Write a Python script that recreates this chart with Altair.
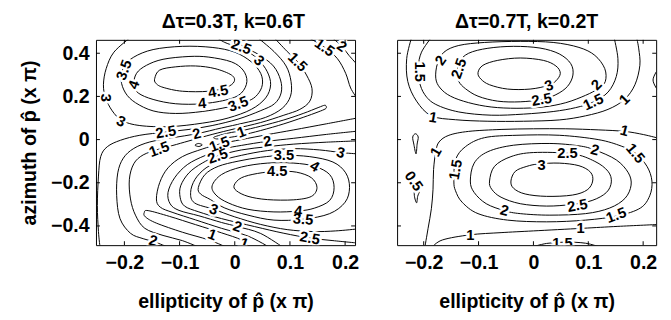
import altair as alt
import pandas as pd

FONT = "Liberation Sans"
W, H = 265, 210

x_ticks = [-0.2, -0.1, 0, 0.1, 0.2]
y_ticks = [-0.4, -0.2, 0, 0.2, 0.4]
left_x_domain = [-0.2515, 0.218]
right_x_domain = [-0.2485, 0.2237]
y_domain = [-0.489, 0.462]

left_title = "\u0394\u03c4=0.3T, k=0.6T"
right_title = "\u0394\u03c4=0.7T, k=0.2T"
x_title = "ellipticity of p\u0302 (x \u03c0)"
y_title = "azimuth of p\u0302 (x \u03c0)"

# ---------------- left panel contour lines (x, y) ----------------
left_u45 = [(-0.145,0.284),(-0.136,0.322),(-0.107,0.337),(-0.071,0.341),(-0.036,0.329),(-0.006,0.299),(-0.001,0.269),(-0.015,0.242),(-0.047,0.224),(-0.095,0.224),(-0.130,0.242),(-0.143,0.261)]
left_u4 = [(-0.183,0.254),(-0.178,0.307),(-0.160,0.344),(-0.130,0.372),(-0.083,0.385),(-0.047,0.382),(-0.006,0.360),(0.015,0.322),(0.022,0.269),(0.012,0.216),(-0.012,0.186),(-0.059,0.166),(-0.107,0.166),(-0.148,0.186),(-0.175,0.216)]
left_u35 = [(-0.206,0.276),(-0.201,0.337),(-0.183,0.382),(-0.148,0.417),(-0.095,0.432),(-0.041,0.427),(0.000,0.405),(0.030,0.360),(0.047,0.307),(0.050,0.254),(0.041,0.208),(0.024,0.178),(-0.012,0.151),(-0.059,0.130),(-0.107,0.121),(-0.148,0.133),(-0.180,0.171),(-0.198,0.216)]
left_o3 = [(-0.189,0.473),(-0.219,0.405),(-0.233,0.329),(-0.238,0.254),(-0.234,0.193),(-0.222,0.133),(-0.204,0.088),(-0.172,0.065),(-0.118,0.060),(-0.059,0.076),(-0.012,0.100),(0.030,0.140),(0.056,0.193),(0.065,0.254),(0.059,0.314),(0.044,0.367),(0.027,0.402),(0.006,0.427),(-0.018,0.450),(-0.033,0.473)]
left_o25 = [(-0.001,0.473),(0.015,0.432),(0.044,0.393),(0.070,0.341),(0.083,0.276),(0.084,0.216),(0.072,0.166),(0.046,0.133),(0.006,0.095),(-0.041,0.065),(-0.083,0.047),(-0.125,0.035),(-0.172,0.020),(-0.207,-0.003),(-0.231,-0.033),(-0.243,-0.079),(-0.247,-0.169),(-0.249,-0.305),(-0.247,-0.426),(-0.244,-0.502)]
left_o2 = [(0.041,0.473),(0.071,0.408),(0.093,0.341),(0.102,0.269),(0.101,0.201),(0.086,0.145),(0.056,0.103),(0.015,0.076),(-0.024,0.054),(-0.069,0.027),(-0.112,0.009),(-0.154,-0.011),(-0.183,-0.041),(-0.202,-0.086),(-0.212,-0.154),(-0.214,-0.260),(-0.208,-0.366),(-0.189,-0.434),(-0.166,-0.459),(-0.142,-0.477),(-0.118,-0.502)]
left_o15 = [(0.071,0.473),(0.095,0.408),(0.114,0.360),(0.130,0.299),(0.140,0.236),(0.136,0.178),(0.118,0.140),(0.089,0.113),(0.047,0.079),(0.000,0.050),(-0.041,0.024),(-0.083,-0.006),(-0.112,-0.027),(-0.137,-0.044),(-0.166,-0.071),(-0.183,-0.112),(-0.191,-0.184),(-0.189,-0.275),(-0.180,-0.350),(-0.163,-0.411),(-0.130,-0.444),(-0.095,-0.468),(-0.062,-0.502)]
left_v1 = [(-0.037,0.012),(-0.012,0.030),(0.012,0.041),(0.047,0.062),(0.089,0.091),(0.124,0.121),(0.151,0.148),(0.163,0.159),(0.166,0.151),(0.164,0.142),(0.151,0.128),(0.124,0.103),(0.089,0.073),(0.047,0.042),(0.012,0.020),(-0.012,0.009),(-0.033,0.003)]
left_dot = [(-0.072,-0.026),(-0.066,-0.018),(-0.059,-0.024),(-0.065,-0.032)]
left_i15 = [(0.222,0.100),(0.166,0.073),(0.107,0.045),(0.059,0.023),(0.012,0.000),(-0.028,-0.021),(-0.059,-0.044),(-0.095,-0.079),(-0.121,-0.131),(-0.136,-0.199),(-0.142,-0.275),(-0.135,-0.313),(-0.112,-0.338),(-0.071,-0.372),(-0.024,-0.411),(0.024,-0.447),(0.065,-0.502)]
left_w1 = [(-0.012,-0.502),(-0.047,-0.465),(-0.095,-0.429),(-0.142,-0.387),(-0.162,-0.358),(-0.164,-0.338),(-0.157,-0.329),(-0.118,-0.356),(-0.071,-0.394),(-0.024,-0.432),(0.012,-0.465),(0.027,-0.502)]
left_i2 = [(0.222,0.039),(0.166,0.024),(0.107,0.006),(0.059,-0.008),(0.012,-0.027),(-0.018,-0.042),(-0.053,-0.073),(-0.086,-0.116),(-0.109,-0.177),(-0.121,-0.245),(-0.117,-0.298),(-0.101,-0.328),(-0.065,-0.353),(-0.024,-0.384),(0.005,-0.403),(0.047,-0.435),(0.089,-0.502)]
left_i25 = [(0.222,-0.006),(0.166,-0.012),(0.107,-0.021),(0.059,-0.033),(0.012,-0.048),(-0.031,-0.076),(-0.059,-0.109),(-0.083,-0.154),(-0.098,-0.214),(-0.099,-0.267),(-0.091,-0.308),(-0.065,-0.335),(-0.024,-0.366),(0.036,-0.403),(0.089,-0.434),(0.136,-0.456),(0.178,-0.468),(0.222,-0.479)]
left_i3 = [(0.222,-0.066),(0.192,-0.060),(0.154,-0.048),(0.107,-0.042),(0.059,-0.051),(0.012,-0.073),(-0.024,-0.097),(-0.052,-0.131),(-0.072,-0.184),(-0.080,-0.245),(-0.073,-0.293),(-0.038,-0.323),(0.000,-0.358),(0.047,-0.393),(0.095,-0.417),(0.142,-0.426),(0.183,-0.423),(0.222,-0.414)]
left_l35 = [(-0.066,-0.222),(-0.054,-0.162),(-0.030,-0.124),(0.006,-0.100),(0.047,-0.082),(0.089,-0.073),(0.136,-0.079),(0.178,-0.104),(0.201,-0.154),(0.208,-0.222),(0.200,-0.290),(0.172,-0.343),(0.124,-0.369),(0.071,-0.373),(0.024,-0.350),(-0.018,-0.317),(-0.044,-0.278),(-0.062,-0.252)]
left_l4 = [(-0.041,-0.214),(-0.024,-0.162),(0.012,-0.127),(0.059,-0.109),(0.107,-0.109),(0.145,-0.124),(0.172,-0.162),(0.180,-0.222),(0.172,-0.282),(0.145,-0.317),(0.115,-0.331),(0.071,-0.335),(0.024,-0.323),(-0.012,-0.293),(-0.034,-0.257)]
left_l45 = [(-0.001,-0.211),(0.012,-0.177),(0.041,-0.157),(0.077,-0.147),(0.112,-0.151),(0.139,-0.177),(0.149,-0.222),(0.139,-0.263),(0.107,-0.279),(0.059,-0.278),(0.024,-0.263),(0.003,-0.237)]
left_t15 = [(0.133,0.473),(0.163,0.427),(0.186,0.375),(0.201,0.307),(0.210,0.239),(0.222,0.190)]
left_t2 = [(0.176,0.473),(0.194,0.432),(0.207,0.390),(0.222,0.347)]

left_curves = [
    ("u45", left_u45, True), ("u4", left_u4, True), ("u35", left_u35, True),
    ("o3", left_o3, False), ("o25", left_o25, False), ("o2", left_o2, False),
    ("o15", left_o15, False), ("v1", left_v1, True), ("dot", left_dot, True),
    ("i15", left_i15, False), ("w1", left_w1, False), ("i2", left_i2, False),
    ("i25", left_i25, False), ("i3", left_i3, False), ("l35", left_l35, True),
    ("l4", left_l4, True), ("l45", left_l45, True), ("t15", left_t15, False),
    ("t2", left_t2, False),
]

# contour labels: text, x, y, angle
left_labels = [
    ("4.5", -0.030, 0.224, 350), ("4", -0.183, 0.254, 290), ("4", -0.059, 0.168, 355),
    ("3.5", -0.201, 0.322, 290), ("3.5", 0.006, 0.165, 340), ("3", -0.234, 0.193, 90),
    ("3", -0.206, 0.085, 25), ("3", 0.044, 0.367, 45), ("2.5", 0.012, 0.430, 20),
    ("1.5", 0.114, 0.360, 45), ("1.5", 0.163, 0.427, 35), ("2", 0.194, 0.432, 35),
    ("2.5", -0.125, 0.035, 350), ("2", -0.069, 0.027, 345), ("1.5", -0.137, -0.044, 340),
    ("1", 0.012, 0.035, 340), ("2", 0.059, -0.008, 350), ("1.5", -0.028, -0.021, 340),
    ("2.5", -0.031, -0.076, 340), ("3.5", 0.089, -0.073, 0), ("4", 0.145, -0.124, 30),
    ("4.5", 0.077, -0.147, 0), ("3", 0.192, -0.060, 15), ("3", -0.038, -0.323, 20),
    ("4", 0.115, -0.331, 5), ("3.5", 0.124, -0.369, 5), ("2", 0.005, -0.403, 20),
    ("1", -0.041, -0.440, 20), ("2.5", 0.136, -0.456, 10), ("2", -0.148, -0.468, 15),
    ("1", 0.017, -0.480, 20),
]

# ---------------- right panel contour lines (x, y) ----------------
right_r3 = [(-0.101,0.310),(-0.092,0.344),(-0.065,0.367),(-0.024,0.378),(0.018,0.367),(0.041,0.341),(0.049,0.307),(0.041,0.272),(0.027,0.251),(-0.006,0.234),(-0.047,0.234),(-0.080,0.254),(-0.096,0.281)]
right_r25 = [(-0.139,0.307),(-0.135,0.360),(-0.118,0.400),(-0.083,0.423),(-0.036,0.432),(0.012,0.424),(0.047,0.397),(0.068,0.352),(0.072,0.299),(0.062,0.246),(0.041,0.208),(0.015,0.186),(-0.024,0.175),(-0.065,0.178),(-0.101,0.201),(-0.124,0.236),(-0.136,0.269)]
right_r2 = [(-0.178,0.284),(-0.175,0.352),(-0.163,0.405),(-0.136,0.436),(-0.089,0.450),(-0.024,0.455),(0.036,0.450),(0.083,0.427),(0.112,0.390),(0.130,0.329),(0.131,0.269),(0.118,0.236),(0.095,0.205),(0.059,0.171),(0.018,0.151),(-0.030,0.145),(-0.077,0.151),(-0.118,0.171),(-0.151,0.201),(-0.170,0.239)]
right_r15 = [(-0.186,0.473),(-0.204,0.405),(-0.210,0.337),(-0.208,0.269),(-0.198,0.208),(-0.178,0.163),(-0.136,0.128),(-0.077,0.113),(-0.018,0.118),(0.036,0.130),(0.077,0.148),(0.109,0.174),(0.136,0.220),(0.151,0.292),(0.154,0.375),(0.147,0.473)]
right_r1 = [(-0.222,0.473),(-0.231,0.375),(-0.229,0.269),(-0.213,0.178),(-0.186,0.110),(-0.142,0.092),(-0.083,0.085),(-0.018,0.085),(0.047,0.091),(0.095,0.110),(0.136,0.140),(0.166,0.186),(0.185,0.254),(0.194,0.344),(0.192,0.420),(0.188,0.473)]
right_edge = [(0.230,0.337),(0.218,0.276),(0.230,0.216)]
right_l1 = [(0.230,0.005),(0.201,0.023),(0.166,0.038),(0.118,0.045),(0.059,0.050),(0.000,0.050),(-0.059,0.047),(-0.118,0.038),(-0.154,0.020),(-0.172,-0.011),(-0.178,-0.056),(-0.182,-0.139),(-0.183,-0.230),(-0.186,-0.320),(-0.192,-0.411),(-0.198,-0.500)]
right_b1 = [(-0.185,-0.500),(-0.166,-0.465),(-0.115,-0.441),(-0.059,-0.431),(0.000,-0.423),(0.089,-0.411),(0.154,-0.402),(0.230,-0.393)]
right_l15 = [(-0.145,-0.192),(-0.142,-0.094),(-0.124,-0.033),(-0.089,0.009),(-0.030,0.020),(0.047,0.020),(0.118,0.000),(0.160,-0.030),(0.186,-0.063),(0.207,-0.124),(0.216,-0.192),(0.212,-0.260),(0.195,-0.317),(0.154,-0.353),(0.095,-0.373),(0.024,-0.381),(-0.047,-0.373),(-0.101,-0.343),(-0.130,-0.290),(-0.142,-0.237)]
right_l2 = [(-0.115,-0.192),(-0.108,-0.109),(-0.083,-0.056),(-0.036,-0.026),(0.030,-0.018),(0.083,-0.029),(0.112,-0.048),(0.151,-0.094),(0.173,-0.154),(0.178,-0.211),(0.167,-0.272),(0.139,-0.317),(0.095,-0.343),(0.030,-0.350),(-0.024,-0.343),(-0.053,-0.329),(-0.086,-0.297),(-0.108,-0.245)]
right_l25 = [(-0.080,-0.192),(-0.071,-0.124),(-0.041,-0.079),(0.000,-0.060),(0.071,-0.066),(0.112,-0.101),(0.136,-0.147),(0.142,-0.196),(0.133,-0.245),(0.107,-0.282),(0.071,-0.300),(0.024,-0.308),(-0.024,-0.297),(-0.059,-0.267),(-0.076,-0.230)]
right_l3 = [(-0.041,-0.192),(-0.033,-0.147),(-0.012,-0.124),(0.009,-0.113),(0.047,-0.109),(0.083,-0.121),(0.104,-0.151),(0.108,-0.192),(0.098,-0.233),(0.071,-0.257),(0.024,-0.263),(-0.015,-0.252),(-0.036,-0.226)]
right_s1 = [(-0.220,0.012),(-0.215,0.027),(-0.210,0.012),(-0.212,-0.021),(-0.214,-0.066),(-0.218,-0.021)]
right_s2 = [(-0.216,-0.222),(-0.208,-0.237),(-0.211,-0.263),(-0.213,-0.293),(-0.217,-0.260)]
right_b15 = [(-0.006,-0.500),(0.024,-0.481),(0.059,-0.475),(0.095,-0.480),(0.124,-0.500)]

right_curves = [
    ("r3", right_r3, True), ("r25", right_r25, True), ("r2", right_r2, True),
    ("r15", right_r15, False), ("r1", right_r1, False), ("edge", right_edge, False),
    ("l1", right_l1, False), ("b1", right_b1, False), ("l15", right_l15, True),
    ("l2", right_l2, True), ("l25", right_l25, True), ("l3", right_l3, True),
    ("s1", right_s1, True), ("s2", right_s2, True), ("b15", right_b15, False),
]

right_labels = [
    ("3", 0.028, 0.251, 340), ("2.5", -0.136, 0.329, 290), ("2.5", 0.015, 0.186, 350),
    ("2", -0.169, 0.367, 305), ("2", 0.115, 0.254, 315), ("1.5", -0.207, 0.314, 90),
    ("1.5", 0.109, 0.174, 335), ("1", -0.183, 0.103, 10), ("1", 0.166, 0.186, 315),
    ("1", 0.166, 0.042, 15), ("1", -0.178, -0.056, 300), ("1.5", -0.142, -0.139, 280),
    ("3", 0.015, -0.116, 0), ("2.5", 0.062, -0.063, 0), ("2", 0.112, -0.048, 15),
    ("1.5", 0.186, -0.063, 50), ("2.5", 0.080, -0.305, 350), ("2", -0.053, -0.328, 15),
    ("1.5", 0.151, -0.350, 340), ("1", -0.115, -0.441, 0), ("1", 0.086, -0.411, 0),
    ("0.5", -0.218, -0.192, 55), ("1.5", 0.053, -0.480, 0),
]


def curve_frame(curves):
    rows = []
    for name, pts, closed in curves:
        for i, (x, y) in enumerate(pts):
            rows.append({"curve": name, "i": i, "x": x, "y": y, "closed": closed})
    return pd.DataFrame(rows)


def panel(curves, labels, xdom, title, first):
    xs = alt.Scale(domain=xdom, nice=False, zero=False)
    ys = alt.Scale(domain=y_domain, nice=False, zero=False)
    xaxis = alt.Axis(values=x_ticks, format=".1~f", title=x_title,
                     labelPadding=8, titlePadding=20)
    if first:
        yaxis = alt.Axis(values=y_ticks, format=".1~f", title=y_title,
                         labelPadding=7, titlePadding=11)
    else:
        yaxis = None

    def X(field):
        return alt.X(field, scale=xs, axis=xaxis)

    def Y(field):
        return alt.Y(field, scale=ys, axis=yaxis)

    df = curve_frame(curves)
    open_df = df[~df["closed"]]
    closed_df = df[df["closed"]]

    open_lines = alt.Chart(open_df).mark_line(
        color="black", strokeWidth=1, interpolate="cardinal", clip=True
    ).encode(x=X("x:Q"), y=Y("y:Q"), detail="curve:N", order="i:Q")
    closed_lines = alt.Chart(closed_df).mark_line(
        color="black", strokeWidth=1, interpolate="cardinal-closed", clip=True
    ).encode(x=X("x:Q"), y=Y("y:Q"), detail="curve:N", order="i:Q")

    ldf = pd.DataFrame(labels, columns=["text", "x", "y", "angle"])
    lab_enc = dict(x=X("x:Q"), y=Y("y:Q"), text="text:N",
                   angle=alt.Angle("angle:Q", scale=None))
    halo = alt.Chart(ldf).mark_text(
        font=FONT, fontSize=15, fontWeight="bold", fill="white", stroke="white",
        strokeWidth=5, strokeJoin="round", clip=True,
    ).encode(**lab_enc)
    text = alt.Chart(ldf).mark_text(
        font=FONT, fontSize=15, fontWeight="bold", color="black", clip=True,
    ).encode(**lab_enc)

    xt = pd.DataFrame({"x": x_ticks})
    yt = pd.DataFrame({"y": y_ticks})
    tl = 4
    bottom = alt.Chart(xt).mark_rule(color="black", strokeWidth=1).encode(
        x=X("x:Q"), y=alt.value(H), y2=alt.value(H - tl))
    top = alt.Chart(xt).mark_rule(color="black", strokeWidth=1).encode(
        x=X("x:Q"), y=alt.value(0), y2=alt.value(tl))
    left = alt.Chart(yt).mark_rule(color="black", strokeWidth=1).encode(
        y=Y("y:Q"), x=alt.value(0), x2=alt.value(tl))
    right = alt.Chart(yt).mark_rule(color="black", strokeWidth=1).encode(
        y=Y("y:Q"), x=alt.value(W), x2=alt.value(W - tl))

    return alt.layer(open_lines, closed_lines, halo, text, bottom, top, left, right).properties(
        width=W, height=H,
        title=alt.TitleParams(title, font=FONT, fontSize=20, fontWeight="bold",
                              color="black", offset=8, frame="group", anchor="middle",
                              dx=8 if first else 0),
    )


left_chart = panel(left_curves, left_labels, left_x_domain, left_title, True)
right_chart = panel(right_curves, right_labels, right_x_domain, right_title, False)

chart = alt.hconcat(left_chart, right_chart, spacing=37).properties(
    padding={"left": 12, "top": 0, "right": 5, "bottom": 5}
).configure_axis(
    labelFont=FONT, labelFontSize=20, labelFontWeight="bold", labelColor="black",
    titleFont=FONT, titleFontSize=20, titleFontWeight="bold", titleColor="black",
    ticks=False, domain=False, grid=False,
).configure_view(stroke="black", strokeWidth=1)

chart.save("out.html", embed_options={"renderer": "svg", "actions": False})
